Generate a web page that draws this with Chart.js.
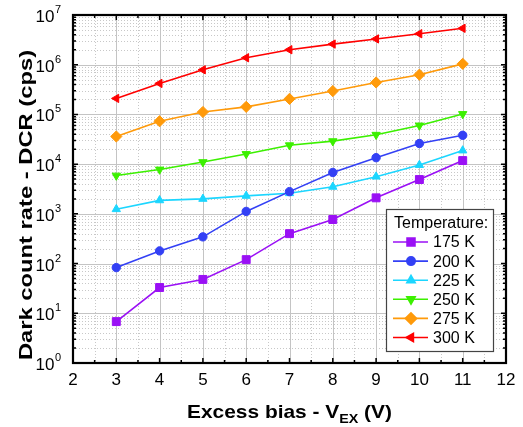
<!DOCTYPE html>
<html>
<head>
<meta charset="utf-8">
<script src="https://cdn.jsdelivr.net/npm/chart.js@4/dist/chart.umd.min.js"></script>
<style>
  html, body { margin: 0; padding: 0; background: #fff; }
  #wrap { width: 523px; height: 427px; }
</style>
</head>
<body>
<div id="wrap"><canvas id="dcr-chart" width="523" height="427"></canvas></div>
<script>
// excess bias values (V)
const biasValues = [3, 4, 5, 6, 7, 8, 9, 10, 11];

// dark count rate (cps) per temperature
const dcr175 = [6.8, 33, 48, 120, 400, 770, 2100, 4900, 11800];
const dcr200 = [83, 180, 345, 1120, 2800, 6800, 13500, 26000, 38000];
const dcr225 = [1240, 1870, 2000, 2300, 2600, 3500, 5600, 9600, 18800];
const dcr250 = [5900, 7800, 11000, 16000, 24000, 29000, 39000, 60000, 102000];
const dcr275 = [36000, 73000, 112000, 142000, 205000, 295000, 440000, 630000, 1040000];
const dcr300 = [210000, 420000, 790000, 1380000, 2000000, 2600000, 3300000, 4200000, 5400000];

const seriesLabels = ['175 K', '200 K', '225 K', '250 K', '275 K', '300 K'];
const legendTitle = 'Temperature:';

const xTickLabels = ['2', '3', '4', '5', '6', '7', '8', '9', '10', '11', '12'];
const yTickExponents = ['0', '1', '2', '3', '4', '5', '6', '7'];

const xTitle = 'Excess bias - V';
const xTitleSub = 'EX';
const xTitleEnd = ' (V)';
const yTitle = 'Dark count rate - DCR (cps)';

const FONT = '"Liberation Sans", Arial, sans-serif';

function makeSet(label, values, color, style, rotation, radius)
{
    return {
        label: label,
        data: biasValues.map((x, i) => ({ x: x, y: values[i] })),
        borderColor: color,
        backgroundColor: color,
        borderWidth: 1.6,
        pointStyle: style,
        pointRotation: rotation,
        pointRadius: radius,
        pointBorderWidth: 1,
        pointHoverRadius: radius
    };
}

const datasets = [
    makeSet(seriesLabels[0], dcr175, '#9a10f5', 'rect', 0, 5.6),
    makeSet(seriesLabels[1], dcr200, '#3340f5', 'circle', 0, 4.2),
    makeSet(seriesLabels[2], dcr225, '#1cd6ff', 'triangle', 0, 4.8),
    makeSet(seriesLabels[3], dcr250, '#3cf000', 'triangle', 180, 4.8),
    makeSet(seriesLabels[4], dcr275, '#ff9a0a', 'rectRot', 0, 5.6),
    makeSet(seriesLabels[5], dcr300, '#ff0000', 'triangle', -90, 4.8)
];

// grid, frame, tick labels, titles and legend
const framePlugin = {
    id: 'frame',
    beforeDatasetsDraw(chart)
    {
        const ctx = chart.ctx;
        const area = chart.chartArea;
        const xs = chart.scales.x;
        const ys = chart.scales.y;

        ctx.save();
        // minor grid
        ctx.strokeStyle = '#c8c8c8';
        ctx.lineWidth = 1;
        ctx.setLineDash([1, 2]);
        ctx.beginPath();
        for (let v = 2.5; v < 12; v += 1)
        {
            const px = Math.round(xs.getPixelForValue(v)) + 0.5;
            ctx.moveTo(px, area.top);
            ctx.lineTo(px, area.bottom);
        }
        for (let e = 0; e < 7; e++)
        {
            for (let m = 2; m <= 9; m++)
            {
                const py = Math.round(ys.getPixelForValue(m * Math.pow(10, e))) + 0.5;
                ctx.moveTo(area.left, py);
                ctx.lineTo(area.right, py);
            }
        }
        ctx.stroke();

        // major grid
        ctx.setLineDash([]);
        ctx.strokeStyle = '#c4c4c4';
        ctx.beginPath();
        for (let v = 3; v < 12; v++)
        {
            const px = Math.round(xs.getPixelForValue(v)) + 0.5;
            ctx.moveTo(px, area.top);
            ctx.lineTo(px, area.bottom);
        }
        for (let e = 1; e < 7; e++)
        {
            const py = Math.round(ys.getPixelForValue(Math.pow(10, e))) + 0.5;
            ctx.moveTo(area.left, py);
            ctx.lineTo(area.right, py);
        }
        ctx.stroke();
        ctx.restore();
    },
    afterDraw(chart)
    {
        const ctx = chart.ctx;
        const area = chart.chartArea;
        const xs = chart.scales.x;
        const ys = chart.scales.y;

        ctx.save();
        // tick marks, pointing inward on all four sides
        ctx.strokeStyle = '#000';
        ctx.lineWidth = 1.5;
        ctx.beginPath();
        for (let v = 2; v <= 12; v += 0.5)
        {
            const px = xs.getPixelForValue(v);
            const len = (v % 1 === 0) ? 5 : 3;
            ctx.moveTo(px, area.bottom);
            ctx.lineTo(px, area.bottom - len);
            ctx.moveTo(px, area.top);
            ctx.lineTo(px, area.top + len);
        }
        for (let e = 0; e <= 7; e++)
        {
            for (let m = 1; m <= 9; m++)
            {
                if (e === 7 && m > 1) break;
                const py = ys.getPixelForValue(m * Math.pow(10, e));
                const len = (m === 1) ? 5 : 3;
                ctx.moveTo(area.left, py);
                ctx.lineTo(area.left + len, py);
                ctx.moveTo(area.right, py);
                ctx.lineTo(area.right - len, py);
            }
        }
        ctx.stroke();

        // frame
        ctx.lineWidth = 2.2;
        ctx.strokeRect(area.left, area.top, area.right - area.left, area.bottom - area.top);

        // x tick labels
        ctx.fillStyle = '#000';
        ctx.font = '17px ' + FONT;
        ctx.textAlign = 'center';
        ctx.textBaseline = 'alphabetic';
        xTickLabels.forEach(lbl => {
            const px = xs.getPixelForValue(Number(lbl));
            ctx.fillText(lbl, px, area.bottom + 22);
        });

        // y tick labels 10^n
        yTickExponents.forEach(ex => {
            const py = ys.getPixelForValue(Math.pow(10, Number(ex)));
            ctx.font = '11px ' + FONT;
            const wExp = ctx.measureText(ex).width;
            ctx.textAlign = 'left';
            const expX = area.left - 12 - wExp;
            ctx.fillText(ex, expX, py - 2);
            ctx.font = '17px ' + FONT;
            ctx.textAlign = 'right';
            ctx.fillText('10', expX - 0.5, py + 7);
        });

        // y title (stretched along its length like the reference)
        ctx.save();
        ctx.translate(32, 205);
        ctx.rotate(-Math.PI / 2);
        ctx.scale(1.25, 1);
        ctx.font = 'bold 19px ' + FONT;
        ctx.textAlign = 'center';
        ctx.fillText(yTitle, 0, 0);
        ctx.restore();

        // x title with subscript
        ctx.save();
        const cx = (area.left + area.right) / 2;
        ctx.translate(cx, 418);
        ctx.scale(1.1, 1);
        ctx.font = 'bold 19px ' + FONT;
        const w1 = ctx.measureText(xTitle).width;
        const w3 = ctx.measureText(xTitleEnd).width;
        ctx.font = 'bold 13px ' + FONT;
        const w2 = ctx.measureText(xTitleSub).width;
        let tx = -(w1 + w2 + w3) / 2;
        ctx.textAlign = 'left';
        ctx.font = 'bold 19px ' + FONT;
        ctx.fillText(xTitle, tx, 0);
        tx += w1;
        ctx.font = 'bold 13px ' + FONT;
        ctx.fillText(xTitleSub, tx, 5);
        tx += w2;
        ctx.font = 'bold 19px ' + FONT;
        ctx.fillText(xTitleEnd, tx, 0);
        ctx.restore();

        // legend
        const lx = 386, ly = 209, lw = 107, lh = 142;
        ctx.fillStyle = '#fff';
        ctx.fillRect(lx, ly, lw, lh);
        ctx.strokeStyle = '#444';
        ctx.lineWidth = 1.2;
        ctx.strokeRect(lx + 0.5, ly + 0.5, lw, lh);

        ctx.fillStyle = '#000';
        ctx.font = '16px ' + FONT;
        ctx.textAlign = 'left';
        ctx.textBaseline = 'middle';
        ctx.fillText(legendTitle, lx + 8, ly + 15);

        chart.data.datasets.forEach((ds, i) => {
            const cy = ly + 33 + i * 19.1;
            ctx.strokeStyle = ds.borderColor;
            ctx.lineWidth = 1.6;
            ctx.beginPath();
            ctx.moveTo(lx + 7, cy);
            ctx.lineTo(lx + 42, cy);
            ctx.stroke();
            ctx.fillStyle = ds.backgroundColor;
            Chart.helpers.drawPoint(ctx, {
                pointStyle: ds.pointStyle,
                rotation: ds.pointRotation,
                radius: ds.pointRadius,
                borderWidth: 1
            }, lx + 25, cy);
            ctx.fillStyle = '#000';
            ctx.fillText(ds.label, lx + 47, cy + 1);
        });
        ctx.restore();
    }
};

const config = {
    type: 'line',
    data: { datasets: datasets },
    options: {
        responsive: false,
        animation: false,
        layout: {
            padding: { left: 73, top: 15, right: 17, bottom: 64 }
        },
        scales: {
            x: {
                type: 'linear',
                min: 2,
                max: 12,
                display: false
            },
            y: {
                type: 'logarithmic',
                min: 1,
                max: 1e7,
                display: false
            }
        },
        plugins: {
            legend: { display: false },
            tooltip: { enabled: false }
        }
    },
    plugins: [framePlugin]
};

const myChart = new Chart(document.getElementById('dcr-chart'), config);
</script>
</body>
</html>
